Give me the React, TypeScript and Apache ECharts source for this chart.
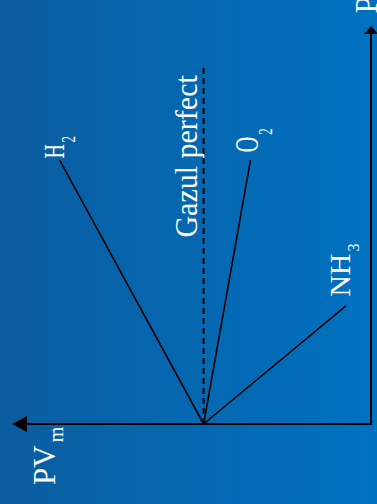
import React, { useEffect, useRef } from "react";
import * as echarts from "echarts";

// Axes ranges (PV_m horizontal, pointing left; P vertical, pointing up)
const xMax = 2.1;
const yMax = 10;

// Common starting point of all curves: P = 0, PV_m = RT
const originPVm = 1;
const originP = 0;

// Real gases: end point of each line
const gases = ["H2", "O2", "NH3"];
const gasMain = ["H", "O", "NH"];
const gasSub = ["2", "2", "3"];
const endPVm = [1.86, 0.72, 0.15];
const endP = [6.7, 6.7, 3.0];

// Ideal gas (dashed)
const idealName = "Gazul perfect";
const idealPVm = 1;
const idealPmax = 9.05;

// Axis titles
const xTitleMain = "PV";
const xTitleSub = "m";
const yTitle = "P";

const FONT = "'Liberation Serif', 'Times New Roman', serif";

function measure(text: string, size: number) {
  const c = document.createElement("canvas").getContext("2d");
  if (!c) return text.length * size * 0.5;
  c.font = `${size}px ${FONT}`;
  return c.measureText(text).width;
}

// Label drawn rotated (reads bottom-to-top); (x, y) = start of text on its centre line
function rotLabel(
  x: number,
  y: number,
  main: string,
  sub: string,
  fs: number,
  ss: number,
  drop: number,
  stretch: number,
  gap: number
) {
  const children: any[] = [
    {
      type: "text",
      x: 0,
      y: 0,
      style: {
        text: main,
        fill: "#fff",
        fontSize: fs,
        fontFamily: FONT,
        align: "left",
        verticalAlign: "middle",
      },
    },
  ];
  if (sub) {
    const mw = measure(main, fs);
    const baseMain = 0.3375 * fs;
    const baseSub = baseMain + drop;
    children.push({
      type: "text",
      x: mw + gap,
      y: baseSub - 0.3375 * ss,
      style: {
        text: sub,
        fill: "#fff",
        fontSize: ss,
        fontFamily: FONT,
        align: "left",
        verticalAlign: "middle",
      },
    });
  }
  return {
    type: "group",
    x,
    y,
    rotation: Math.PI / 2,
    scaleY: stretch,
    silent: true,
    children,
  };
}

// label styling per gas: [fontSize, subSize, drop, stretch, gap, dx, dy]
const gasLabelStyle: number[][] = [
  [20, 13, 8, 1.46, 1.5, -5.5, -1.5],
  [22, 13, 9, 1.5, 2, -3.5, -7.5],
  [30, 16, 9, 1, 2, -6, -9],
];

export default function App() {
  const ref = useRef<HTMLDivElement>(null);

  useEffect(() => {
    if (!ref.current) return;
    const chart = echarts.init(ref.current, null, { renderer: "svg" });

    const axisCommon = {
      type: "value" as const,
      axisTick: { show: false },
      axisLabel: { show: false },
      splitLine: { show: false },
    };

    const series: any[] = gases.map((g, i) => ({
      name: g,
      type: "line",
      symbol: "none",
      silent: true,
      lineStyle: { color: "#000", width: 1.6 },
      data: [
        [originPVm, originP],
        [endPVm[i], endP[i]],
      ],
    }));
    series.push({
      name: idealName,
      type: "line",
      symbol: "none",
      silent: true,
      lineStyle: { color: "#000", width: 2, type: [6, 4] },
      data: [
        [idealPVm, originP],
        [idealPVm, idealPmax],
      ],
    });

    chart.setOption({
      animation: false,
      backgroundColor: "transparent",
      grid: { left: 19.5, right: 6, top: 30, bottom: 80 },
      xAxis: {
        ...axisCommon,
        inverse: true,
        min: 0,
        max: xMax,
        position: "bottom",
        axisLine: {
          show: true,
          onZero: false,
          symbol: ["triangle", "none"],
          symbolSize: [16, 15],
          lineStyle: { color: "#000", width: 2 },
        },
      },
      yAxis: {
        ...axisCommon,
        position: "right",
        min: 0,
        max: yMax,
        axisLine: {
          show: true,
          onZero: false,
          symbol: ["none", "triangle"],
          symbolSize: [14, 8],
          lineStyle: { color: "#000", width: 2 },
        },
      },
      series,
    });

    const toPx = (p: number[]) =>
      chart.convertToPixel({ xAxisIndex: 0, yAxisIndex: 0 }, p) as number[];

    const graphics: any[] = [];
    gases.forEach((g, i) => {
      const [fs, ss, drop, st, gap, dx, dy] = gasLabelStyle[i];
      const e = toPx([endPVm[i], endP[i]]);
      graphics.push(rotLabel(e[0] + dx, e[1] + dy, gasMain[i], gasSub[i], fs, ss, drop, st, gap));
    });

    // ideal gas label: ends at the top of the dashed line
    const top = toPx([idealPVm, idealPmax]);
    const idealStretch = 1.06;
    const idealW = measure(idealName, 30) * idealStretch;
    graphics.push(
      rotLabel(top[0] - 17.5, top[1] - 2 + idealW, idealName, "", 30, 0, 0, idealStretch, 0)
    );

    // axis titles
    const xEnd = toPx([xMax, 0]);
    graphics.push(rotLabel(xEnd[0] + 25, xEnd[1] + 61, xTitleMain, xTitleSub, 31, 20, 8, 1, 3));
    const yEnd = toPx([0, yMax]);
    graphics.push(rotLabel(yEnd[0] - 5, yEnd[1] - 16.5, yTitle, "", 31, 0, 0, 1, 0));

    chart.setOption({ graphic: graphics });

    return () => chart.dispose();
  }, []);

  return (
    <div
      style={{
        position: "fixed",
        left: 0,
        top: 0,
        width: 377,
        height: 504,
        background: "linear-gradient(to right, #0b5d9f, #0071c1)",
      }}
    >
      <div ref={ref} style={{ width: 377, height: 504 }} />
    </div>
  );
}
